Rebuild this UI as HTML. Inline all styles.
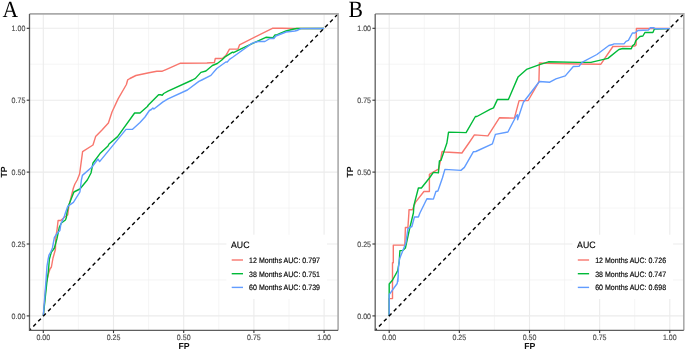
<!DOCTYPE html>
<html><head><meta charset="utf-8"><style>
html,body{margin:0;padding:0;background:#fff;}
body{width:685px;height:351px;overflow:hidden;}
svg{display:block;will-change:transform;text-rendering:geometricPrecision;font-family:"Liberation Sans",sans-serif;}
.gm{stroke:#EFEFEF;stroke-width:0.6;}
.gM{stroke:#EBEBEB;stroke-width:1.1;}
.tk{stroke:#333;stroke-width:1.1;}
text{stroke-width:0.14px;paint-order:stroke;}
.t0{stroke:#000;}
.t4{stroke:#4D4D4D;}
</style></head><body>
<svg width="685" height="351" viewBox="0 0 685 351">
<rect width="685" height="351" fill="#fff"/>
<g>
<rect x="29.5" y="13.9" width="308.6" height="316.4" fill="#fff"/>
<line x1="78.4" y1="13.9" x2="78.4" y2="330.3" class="gm"/>
<line x1="29.5" y1="279.95" x2="338.1" y2="279.95" class="gm"/>
<line x1="148.6" y1="13.9" x2="148.6" y2="330.3" class="gm"/>
<line x1="29.5" y1="208.05" x2="338.1" y2="208.05" class="gm"/>
<line x1="218.8" y1="13.9" x2="218.8" y2="330.3" class="gm"/>
<line x1="29.5" y1="136.15" x2="338.1" y2="136.15" class="gm"/>
<line x1="289" y1="13.9" x2="289" y2="330.3" class="gm"/>
<line x1="29.5" y1="64.25" x2="338.1" y2="64.25" class="gm"/>
<line x1="43.3" y1="13.9" x2="43.3" y2="330.3" class="gM"/>
<line x1="29.5" y1="315.9" x2="338.1" y2="315.9" class="gM"/>
<line x1="113.5" y1="13.9" x2="113.5" y2="330.3" class="gM"/>
<line x1="29.5" y1="244" x2="338.1" y2="244" class="gM"/>
<line x1="183.7" y1="13.9" x2="183.7" y2="330.3" class="gM"/>
<line x1="29.5" y1="172.1" x2="338.1" y2="172.1" class="gM"/>
<line x1="253.9" y1="13.9" x2="253.9" y2="330.3" class="gM"/>
<line x1="29.5" y1="100.2" x2="338.1" y2="100.2" class="gM"/>
<line x1="324.1" y1="13.9" x2="324.1" y2="330.3" class="gM"/>
<line x1="29.5" y1="28.3" x2="338.1" y2="28.3" class="gM"/>
<polyline points="43.3,315.9 46.2,283 48.4,274 50,269 51.4,267 53,258 55.4,249.5 55.9,235.9 56.9,231 58.1,220.5 60.7,220.5 65.4,216.5 67.7,215 68.9,205.9 73.4,188 74.9,184 77.2,180 79.6,174 82.6,151.6 93,145 95.6,136.6 102,130 108.4,123 112.1,111.8 118.1,98.9 126.4,84.5 127.7,79.8 129.9,78.5 135.9,75.5 148.9,72.8 156.8,71.2 162.3,71.2 166,69.6 180.5,63.2 206.9,63 214.4,62.5 215.3,58.5 222.3,58.5 225.8,55.6 229.5,49.1 238,49.1 239.5,44.9 272.4,28.3 281.8,28.2 293,28.5 324.1,28.5" fill="none" stroke="#F8766D" stroke-width="1.4" stroke-linejoin="round"/>
<polyline points="43.3,315.9 46.8,283 48.4,271 49.4,259 51.4,252 53.4,249.5 54.4,248 56.9,238.9 59.4,227 61.4,223 65.4,220 66.4,217.5 66.9,213 68.4,205.9 73.9,192 75.9,191 79.9,189 87.3,180 91,173 93,163 100,153.6 108,146 109,144 117.6,136.6 134.6,113 140,113 147.4,106.5 148.4,105 158.6,94.8 160.6,94.8 162.2,95.2 163.7,93.5 168,91.1 192.4,80 195.4,78.4 200.9,72.4 205.9,71 212.4,65.5 217.3,63.5 221.8,60 225,56.9 232.5,52.1 233.5,52.7 241,48.9 254.9,42.4 265.9,37.3 273,37.6 275,35 276.8,35 280,33.4 286,31 293.9,29 296.9,28.5 324.1,28.5" fill="none" stroke="#00BA38" stroke-width="1.4" stroke-linejoin="round"/>
<polyline points="43.3,315.9 45.8,283 47,266 48,260 49,255 51,251.5 52.4,248 54.4,237.4 57.4,233 59.9,230.4 60.9,224 64.4,216 65.4,213 67.7,206.4 73.4,202.4 79.9,192 81.4,180 82.4,175.4 92,167 98,159 99.6,161.6 126,129.4 132.3,129.4 140,122.4 145,117 149.4,110.5 151.4,109.5 152.9,108 153.9,109 163,101.9 168,98.9 187.4,90 198.9,81.4 201.8,80 210.9,75.4 216.8,68.5 225.8,62 227.3,62 229.5,59.4 233,57 251.9,43.4 257.9,41.5 264.9,41.5 269.9,38.5 273.9,38.5 275.8,36 284.8,32.5 286,32 294.9,31 296.9,30.5 300.9,28.6 324.1,28.5" fill="none" stroke="#619CFF" stroke-width="1.4" stroke-linejoin="round"/>
<line x1="29.5" y1="330.3" x2="338.1" y2="13.9" stroke="#000" stroke-width="1.4" stroke-dasharray="3.8 3.284" stroke-dashoffset="1.68"/>
<rect x="226.4" y="234.7" width="100.6" height="64.3" fill="#fff"/>
<text transform="translate(231,247.5) scale(1,1.06)" class="t0" font-size="8.75" fill="#000">AUC</text>
<line x1="231.7" y1="260" x2="243" y2="260" stroke="#F8766D" stroke-width="1.4"/>
<text transform="translate(249.1,262.9) scale(1,1.1)" class="t0" font-size="7.05" fill="#000">12 Months AUC: 0.797</text>
<line x1="231.7" y1="273.7" x2="243" y2="273.7" stroke="#00BA38" stroke-width="1.4"/>
<text transform="translate(249.1,276.6) scale(1,1.1)" class="t0" font-size="7.05" fill="#000">38 Months AUC: 0.751</text>
<line x1="231.7" y1="287.4" x2="243" y2="287.4" stroke="#619CFF" stroke-width="1.4"/>
<text transform="translate(249.1,290.3) scale(1,1.1)" class="t0" font-size="7.05" fill="#000">60 Months AUC: 0.739</text>
<path d="M29.5,13.9H338.1V330.3" fill="none" stroke="#ABABAB" stroke-width="1.6"/>
<path d="M29.5,13.9V330.3H338.1" fill="none" stroke="#5E5E5E" stroke-width="1.3"/>
<line x1="26.7" y1="315.9" x2="29.5" y2="315.9" class="tk"/>
<line x1="43.3" y1="330.3" x2="43.3" y2="333.1" class="tk"/>
<text transform="translate(25.3,318.8) scale(1,1.1)" class="t4" font-size="7.05" fill="#4D4D4D" text-anchor="end">0.00</text>
<text transform="translate(43.3,339.8) scale(1,1.1)" class="t4" font-size="7.05" fill="#4D4D4D" text-anchor="middle">0.00</text>
<line x1="26.7" y1="244" x2="29.5" y2="244" class="tk"/>
<line x1="113.5" y1="330.3" x2="113.5" y2="333.1" class="tk"/>
<text transform="translate(25.3,246.9) scale(1,1.1)" class="t4" font-size="7.05" fill="#4D4D4D" text-anchor="end">0.25</text>
<text transform="translate(113.5,339.8) scale(1,1.1)" class="t4" font-size="7.05" fill="#4D4D4D" text-anchor="middle">0.25</text>
<line x1="26.7" y1="172.1" x2="29.5" y2="172.1" class="tk"/>
<line x1="183.7" y1="330.3" x2="183.7" y2="333.1" class="tk"/>
<text transform="translate(25.3,175) scale(1,1.1)" class="t4" font-size="7.05" fill="#4D4D4D" text-anchor="end">0.50</text>
<text transform="translate(183.7,339.8) scale(1,1.1)" class="t4" font-size="7.05" fill="#4D4D4D" text-anchor="middle">0.50</text>
<line x1="26.7" y1="100.2" x2="29.5" y2="100.2" class="tk"/>
<line x1="253.9" y1="330.3" x2="253.9" y2="333.1" class="tk"/>
<text transform="translate(25.3,103.1) scale(1,1.1)" class="t4" font-size="7.05" fill="#4D4D4D" text-anchor="end">0.75</text>
<text transform="translate(253.9,339.8) scale(1,1.1)" class="t4" font-size="7.05" fill="#4D4D4D" text-anchor="middle">0.75</text>
<line x1="26.7" y1="28.3" x2="29.5" y2="28.3" class="tk"/>
<line x1="324.1" y1="330.3" x2="324.1" y2="333.1" class="tk"/>
<text transform="translate(25.3,31.2) scale(1,1.1)" class="t4" font-size="7.05" fill="#4D4D4D" text-anchor="end">1.00</text>
<text transform="translate(324.1,339.8) scale(1,1.1)" class="t4" font-size="7.05" fill="#4D4D4D" text-anchor="middle">1.00</text>
<text x="184.1" y="349" font-size="8.75" font-weight="bold" fill="#111" text-anchor="middle">FP</text>
<text transform="translate(7.4,171.9) rotate(-90)" font-size="8.9" font-weight="bold" fill="#111" text-anchor="middle">TP</text>
<text transform="translate(10.3,17.4) scale(0.93,1)" text-anchor="middle" font-family="Liberation Serif, serif" font-size="23.3" fill="#000">A</text>
</g>
<g>
<rect x="375.2" y="13.9" width="308.6" height="316.4" fill="#fff"/>
<line x1="424.27" y1="13.9" x2="424.27" y2="330.3" class="gm"/>
<line x1="375.2" y1="279.95" x2="683.8" y2="279.95" class="gm"/>
<line x1="494.42" y1="13.9" x2="494.42" y2="330.3" class="gm"/>
<line x1="375.2" y1="208.05" x2="683.8" y2="208.05" class="gm"/>
<line x1="564.57" y1="13.9" x2="564.57" y2="330.3" class="gm"/>
<line x1="375.2" y1="136.15" x2="683.8" y2="136.15" class="gm"/>
<line x1="634.72" y1="13.9" x2="634.72" y2="330.3" class="gm"/>
<line x1="375.2" y1="64.25" x2="683.8" y2="64.25" class="gm"/>
<line x1="389.2" y1="13.9" x2="389.2" y2="330.3" class="gM"/>
<line x1="375.2" y1="315.9" x2="683.8" y2="315.9" class="gM"/>
<line x1="459.35" y1="13.9" x2="459.35" y2="330.3" class="gM"/>
<line x1="375.2" y1="244" x2="683.8" y2="244" class="gM"/>
<line x1="529.5" y1="13.9" x2="529.5" y2="330.3" class="gM"/>
<line x1="375.2" y1="172.1" x2="683.8" y2="172.1" class="gM"/>
<line x1="599.65" y1="13.9" x2="599.65" y2="330.3" class="gM"/>
<line x1="375.2" y1="100.2" x2="683.8" y2="100.2" class="gM"/>
<line x1="669.8" y1="13.9" x2="669.8" y2="330.3" class="gM"/>
<line x1="375.2" y1="28.3" x2="683.8" y2="28.3" class="gM"/>
<polyline points="389.2,315.9 389.2,298.6 392.5,298.6 392.5,262.8 393.3,262.8 393.3,245.1 404.8,245.1 405.4,227.5 407.9,227.5 408.9,213 409,209.7 412.4,209.7 415.4,202.4 423.9,191.5 429.4,191.5 429.4,174.4 437.9,169.4 438.6,169.4 440.4,161 441.9,152 442.4,151.5 444.9,152 461.9,153 468.9,143 474.4,134.9 487.9,135.9 499.4,117.8 514.4,118.1 519.1,100.6 528.2,100.5 538.9,81.9 539.4,63 545.9,63.2 578,64 600.9,64.2 612.9,46.5 634.9,46.1 636.1,44.9 636.4,28.5 669.8,28.5" fill="none" stroke="#F8766D" stroke-width="1.4" stroke-linejoin="round"/>
<polyline points="389.2,315.9 389.2,284 392.6,280 397.7,270.7 399.2,262 399.9,250.7 402.8,250.4 405.4,248 409.3,230 413.4,213 413.9,205.4 418.4,188 421.4,188 429.4,178 433.4,172.4 438.4,172.9 439.4,161 440.9,160.4 446.9,143 448.5,132.3 458,132.4 466.1,132.6 475.4,116.5 476.9,116.5 490,109.4 493.5,107.9 497.5,99.4 508.4,99.5 518,77.1 526.5,69.4 538.9,64.8 548.4,61.8 578,62.4 590.9,62.4 607.9,58.4 618.9,49.5 622.8,48.5 631.3,48.8 632.4,45.9 634.4,44.4 635.9,40.4 639.9,36.5 642.9,36 644.9,32.5 652.9,32.5 654.4,29 669.8,28.6" fill="none" stroke="#00BA38" stroke-width="1.4" stroke-linejoin="round"/>
<polyline points="389.2,315.9 389.2,294.7 397.2,283.5 398.3,275.3 397.9,281.5 398.5,266.7 399.6,258.7 402.8,250.7 405.9,242.8 407.9,228.5 411.9,226.5 414.4,217 418.4,217 419.9,213 426.9,198.7 433.4,199.1 435.9,191.5 437.9,191 442.4,178 444.9,169.4 460.9,170.4 464.4,167.4 473.3,151.8 475.8,151.5 492.4,143.9 495.4,134.4 507.9,132 516.5,115.5 517.4,114.7 517.6,119.8 518.2,118 523.4,102.3 539.4,81.5 549.8,82.2 555.9,78.9 565.3,75.9 573.3,66.5 579,66.4 582,62.4 596.9,54.5 608.9,45.5 612.9,44.5 614,43.9 624,43.9 626,41.4 628.4,40.4 632.4,33 634.9,33 637.9,30.5 648.4,30 650.4,27.8 653.9,27.8 655.4,28.8 669.8,28.6" fill="none" stroke="#619CFF" stroke-width="1.4" stroke-linejoin="round"/>
<line x1="375.2" y1="330.3" x2="683.8" y2="13.9" stroke="#000" stroke-width="1.4" stroke-dasharray="3.8 3.284" stroke-dashoffset="1.68"/>
<rect x="572.5" y="234.7" width="100.6" height="64.3" fill="#fff"/>
<text transform="translate(577.1,247.5) scale(1,1.06)" class="t0" font-size="8.75" fill="#000">AUC</text>
<line x1="577.8" y1="260" x2="589.1" y2="260" stroke="#F8766D" stroke-width="1.4"/>
<text transform="translate(595.2,262.9) scale(1,1.1)" class="t0" font-size="7.05" fill="#000">12 Months AUC: 0.726</text>
<line x1="577.8" y1="273.7" x2="589.1" y2="273.7" stroke="#00BA38" stroke-width="1.4"/>
<text transform="translate(595.2,276.6) scale(1,1.1)" class="t0" font-size="7.05" fill="#000">38 Months AUC: 0.747</text>
<line x1="577.8" y1="287.4" x2="589.1" y2="287.4" stroke="#619CFF" stroke-width="1.4"/>
<text transform="translate(595.2,290.3) scale(1,1.1)" class="t0" font-size="7.05" fill="#000">60 Months AUC: 0.698</text>
<path d="M375.2,13.9H683.8V330.3" fill="none" stroke="#ABABAB" stroke-width="1.6"/>
<path d="M375.2,13.9V330.3H683.8" fill="none" stroke="#5E5E5E" stroke-width="1.3"/>
<line x1="372.4" y1="315.9" x2="375.2" y2="315.9" class="tk"/>
<line x1="389.2" y1="330.3" x2="389.2" y2="333.1" class="tk"/>
<text transform="translate(371,318.8) scale(1,1.1)" class="t4" font-size="7.05" fill="#4D4D4D" text-anchor="end">0.00</text>
<text transform="translate(389.2,339.8) scale(1,1.1)" class="t4" font-size="7.05" fill="#4D4D4D" text-anchor="middle">0.00</text>
<line x1="372.4" y1="244" x2="375.2" y2="244" class="tk"/>
<line x1="459.35" y1="330.3" x2="459.35" y2="333.1" class="tk"/>
<text transform="translate(371,246.9) scale(1,1.1)" class="t4" font-size="7.05" fill="#4D4D4D" text-anchor="end">0.25</text>
<text transform="translate(459.35,339.8) scale(1,1.1)" class="t4" font-size="7.05" fill="#4D4D4D" text-anchor="middle">0.25</text>
<line x1="372.4" y1="172.1" x2="375.2" y2="172.1" class="tk"/>
<line x1="529.5" y1="330.3" x2="529.5" y2="333.1" class="tk"/>
<text transform="translate(371,175) scale(1,1.1)" class="t4" font-size="7.05" fill="#4D4D4D" text-anchor="end">0.50</text>
<text transform="translate(529.5,339.8) scale(1,1.1)" class="t4" font-size="7.05" fill="#4D4D4D" text-anchor="middle">0.50</text>
<line x1="372.4" y1="100.2" x2="375.2" y2="100.2" class="tk"/>
<line x1="599.65" y1="330.3" x2="599.65" y2="333.1" class="tk"/>
<text transform="translate(371,103.1) scale(1,1.1)" class="t4" font-size="7.05" fill="#4D4D4D" text-anchor="end">0.75</text>
<text transform="translate(599.65,339.8) scale(1,1.1)" class="t4" font-size="7.05" fill="#4D4D4D" text-anchor="middle">0.75</text>
<line x1="372.4" y1="28.3" x2="375.2" y2="28.3" class="tk"/>
<line x1="669.8" y1="330.3" x2="669.8" y2="333.1" class="tk"/>
<text transform="translate(371,31.2) scale(1,1.1)" class="t4" font-size="7.05" fill="#4D4D4D" text-anchor="end">1.00</text>
<text transform="translate(669.8,339.8) scale(1,1.1)" class="t4" font-size="7.05" fill="#4D4D4D" text-anchor="middle">1.00</text>
<text x="529.8" y="349" font-size="8.75" font-weight="bold" fill="#111" text-anchor="middle">FP</text>
<text transform="translate(353.1,171.9) rotate(-90)" font-size="8.9" font-weight="bold" fill="#111" text-anchor="middle">TP</text>
<text transform="translate(355.6,17.4) scale(0.93,1)" text-anchor="middle" font-family="Liberation Serif, serif" font-size="23.3" fill="#000">B</text>
</g>
</svg>
</body></html>
